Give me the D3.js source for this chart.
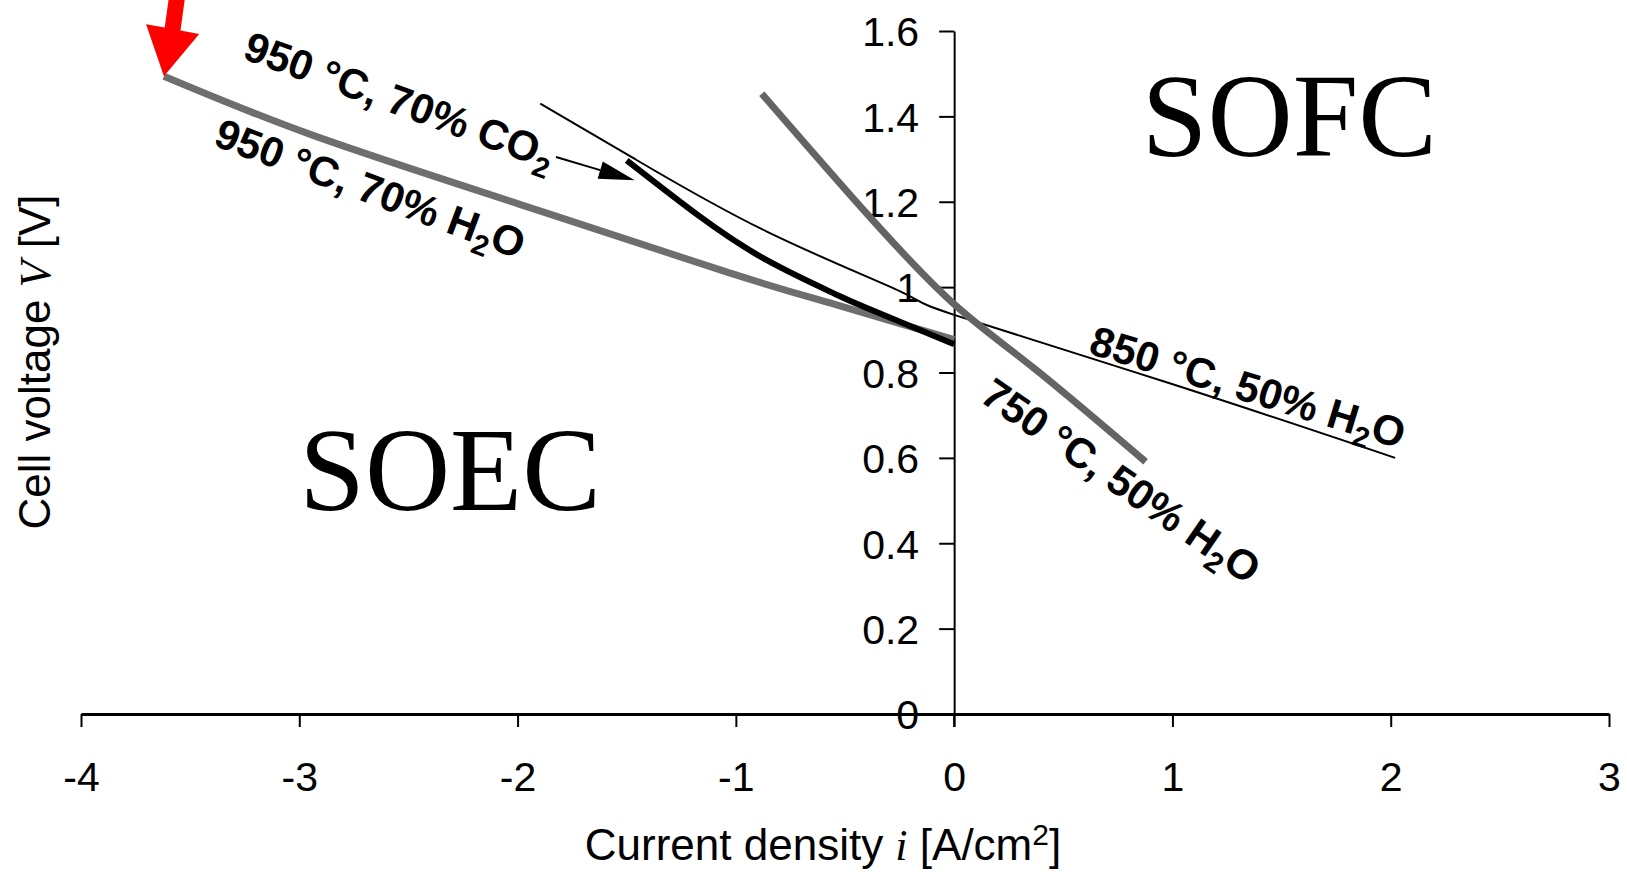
<!DOCTYPE html>
<html>
<head>
<meta charset="utf-8">
<script src="https://cdn.jsdelivr.net/npm/d3@7"></script>
<style>
  body { margin: 0; background: #fff; }
  svg { display: block; }
  .axis text { font-family: "Liberation Sans", Arial, sans-serif; font-size: 41px; fill: #000; }
  .axis line, .axis path { stroke: #000; }
  .curve-label { font-family: "Liberation Sans", Arial, sans-serif; font-weight: bold; font-size: 42px; }
  .region { font-family: "Liberation Serif", "Times New Roman", serif; font-size: 118px; }
  .title { font-family: "Liberation Sans", Arial, sans-serif; font-size: 44px; }
</style>
</head>
<body>
<script>
// values: current density [A/cm2] and cell voltage [V]
const xTicks = [-4, -3, -2, -1, 0, 1, 2, 3];
const yTicks = [0, 0.2, 0.4, 0.6, 0.8, 1.0, 1.2, 1.4, 1.6];

const h2o950_i = [-3.62, -2.94, -1.99, -1.04, -0.55, 0];
const h2o950_v = [1.494, 1.356, 1.194, 1.035, 0.960, 0.877];

const co2950_i = [-1.50, -1.164, -0.858, -0.554, -0.40, 0];
const co2950_v = [1.297, 1.165, 1.063, 0.986, 0.951, 0.866];

const h2o850_i = [-1.896, -1.469, -0.858, -0.247, 0, 0.98, 2.02];
const h2o850_v = [1.430, 1.302, 1.130, 0.990, 0.935, 0.776, 0.600];

const h2o750_i = [-0.881, -0.40, 0, 0.366, 0.877];
const h2o750_v = [1.453, 1.172, 0.960, 0.810, 0.591];

const width = 1627, height = 872;

const x = d3.scaleLinear().domain([-4, 3]).range([81, 1609]);
const y = d3.scaleLinear().domain([0, 1.6]).range([714, 31]);

const svg = d3.select("body").append("svg")
  .attr("width", width)
  .attr("height", height);

// axes
const xAxis = svg.append("g").attr("class", "axis")
  .attr("transform", "translate(0," + y(0) + ")")
  .call(d3.axisBottom(x).tickValues(xTicks).tickSize(13).tickSizeOuter(0)
        .tickPadding(35).tickFormat(d => String(d)));
xAxis.select(".domain").attr("stroke-width", 3);
xAxis.selectAll(".tick line").attr("stroke-width", 2);

const yAxis = svg.append("g").attr("class", "axis")
  .attr("transform", "translate(" + x(0) + ",0)")
  .call(d3.axisLeft(y).tickValues(yTicks).tickSize(15).tickSizeOuter(0)
        .tickPadding(20).tickFormat(d => String(+d.toFixed(1))));
yAxis.select(".domain").attr("stroke-width", 2);
yAxis.selectAll(".tick line").attr("stroke-width", 2);
yAxis.selectAll(".tick text").attr("dy", "0.36em");
// the vertical axis runs a little below the horizontal one
yAxis.append("line")
  .attr("x1", 0).attr("x2", 0)
  .attr("y1", y(0)).attr("y2", y(0) + 13)
  .attr("stroke", "#000").attr("stroke-width", 2);

// curves
const line = d3.line()
  .x(d => x(d[0]))
  .y(d => y(d[1]))
  .curve(d3.curveNatural);

const series = [
  {i: h2o850_i, v: h2o850_v, color: "#000", w: 2},
  {i: h2o950_i, v: h2o950_v, color: "#6e6e6e", w: 7},
  {i: co2950_i, v: co2950_v, color: "#000", w: 6},
  {i: h2o750_i, v: h2o750_v, color: "#646464", w: 7}
];

svg.append("g").selectAll("path")
  .data(series)
  .enter().append("path")
  .attr("d", s => line(d3.zip(s.i, s.v)))
  .attr("fill", "none")
  .attr("stroke", s => s.color)
  .attr("stroke-width", s => s.w);

// curve labels (anchor at start of baseline, in data units)
const labels = [
  {at: [-3.266, 1.536], rot: 20, parts: ["950 °C, 70% CO", "2", ""]},
  {at: [-3.40, 1.333], rot: 20.5, parts: ["950 °C, 70% H", "2", "O"]},
  {at: [0.61, 0.845], rot: 17, parts: ["850 °C, 50% H", "2", "O"]},
  {at: [0.11, 0.735], rot: 34.5, parts: ["750 °C, 50% H", "2", "O"]}
];

labels.forEach(l => {
  const t = svg.append("text")
    .attr("class", "curve-label")
    .attr("transform", "translate(" + x(l.at[0]) + "," + y(l.at[1]) + ") rotate(" + l.rot + ")");
  t.append("tspan").text(l.parts[0]);
  t.append("tspan").attr("dy", 10).attr("font-size", "29px").text(l.parts[1]);
  if (l.parts[2]) t.append("tspan").attr("dy", -10).text(l.parts[2]);
});

// small pointer from the CO2 label to its curve
const pFrom = [556, 157], pTip = [x(co2950_i[0]) + 8, y(co2950_v[0]) + 20];
const ang = Math.atan2(pTip[1] - pFrom[1], pTip[0] - pFrom[0]);
const headLen = 36, headW = 9;
const base = [pTip[0] - headLen * Math.cos(ang), pTip[1] - headLen * Math.sin(ang)];
svg.append("line")
  .attr("x1", pFrom[0]).attr("y1", pFrom[1])
  .attr("x2", base[0]).attr("y2", base[1])
  .attr("stroke", "#000").attr("stroke-width", 2);
svg.append("path")
  .attr("d", "M" + pTip + "L" + [base[0] - headW * Math.sin(ang), base[1] + headW * Math.cos(ang)]
        + "L" + [base[0] + headW * Math.sin(ang), base[1] - headW * Math.cos(ang)] + "Z")
  .attr("fill", "#000");

// red arrow pointing at the start of the 950 °C H2O curve
const rTip = [x(h2o950_i[0]), y(h2o950_v[0])];
const rTail = [rTip[0] + 14, 0];
const ra = Math.atan2(rTip[1] - rTail[1], rTip[0] - rTail[0]);
const rHead = 48, rHalf = 27, rShaft = 8;
const ux = Math.cos(ra), uy = Math.sin(ra), nx = -uy, ny = ux;
const rb = [rTip[0] - rHead * ux, rTip[1] - rHead * uy];
const rPts = [
  [rTail[0] + rShaft * nx, rTail[1] + rShaft * ny - 10],
  [rb[0] + rShaft * nx, rb[1] + rShaft * ny],
  [rb[0] + rHalf * nx, rb[1] + rHalf * ny],
  rTip,
  [rb[0] - rHalf * nx, rb[1] - rHalf * ny],
  [rb[0] - rShaft * nx, rb[1] - rShaft * ny],
  [rTail[0] - rShaft * nx, rTail[1] - rShaft * ny - 10]
];
svg.append("path")
  .attr("d", "M" + rPts.join("L") + "Z")
  .attr("fill", "#ff0000");

// region names
svg.append("text").attr("class", "region")
  .attr("x", x(-3)).attr("y", y(0.479))
  .text("SOEC");
svg.append("text").attr("class", "region")
  .attr("x", x(0.86)).attr("y", y(1.307))
  .text("SOFC");

// axis titles
const xt = svg.append("text").attr("class", "title")
  .attr("x", 823).attr("y", 860).attr("text-anchor", "middle");
xt.append("tspan").text("Current density ");
xt.append("tspan").attr("font-family", "Liberation Serif, serif").attr("font-style", "italic").text("i");
xt.append("tspan").text(" [A/cm");
xt.append("tspan").attr("dy", -15).attr("font-size", "30px").text("2");
xt.append("tspan").attr("dy", 15).text("]");

const yt = svg.append("text").attr("class", "title")
  .attr("transform", "translate(50,362) rotate(-90)")
  .attr("text-anchor", "middle");
yt.append("tspan").text("Cell voltage ");
yt.append("tspan").attr("font-family", "Liberation Serif, serif").attr("font-style", "italic").text("V");
yt.append("tspan").text(" [V]");
</script>
</body>
</html>
